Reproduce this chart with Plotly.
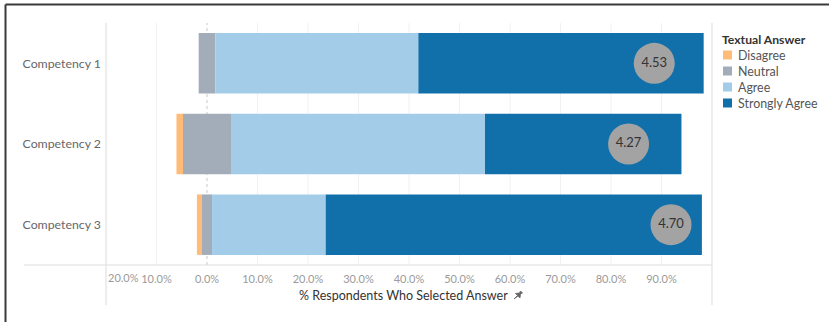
import plotly.graph_objects as go

# Survey results per competency (% of respondents)
competencies = ["Competency 1", "Competency 2", "Competency 3"]
answers = ["Disagree", "Neutral", "Agree", "Strongly Agree"]
disagree = [0.0, 1.3, 1.0]
neutral = [3.3, 9.5, 2.0]
agree = [40.2, 50.3, 22.5]
strongly_agree = [56.5, 38.9, 74.5]
mean_score = [4.53, 4.27, 4.70]

tick_values = [-20, -10, 0, 10, 20, 30, 40, 50, 60, 70, 80, 90]
tick_labels = ["20.0%", "10.0%", "0.0%", "10.0%", "20.0%", "30.0%", "40.0%",
               "50.0%", "60.0%", "70.0%", "80.0%", "90.0%"]

colors = {"Disagree": "#ffbc79", "Neutral": "#a3acb9",
          "Agree": "#a3cce9", "Strongly Agree": "#1170aa"}

FONT = "Lato"
W, H = 829, 322
L, R, T, B = 106, 117, 23, 57
PW, PH = W - L - R, H - T - B


def px_x(x):
    return (x - L) / PW


def px_y(y):
    return (H - B - y) / PH


# Diverging layout: neutral split around zero
bases = {"Disagree": [], "Neutral": [], "Agree": [], "Strongly Agree": []}
for d, n, a, s in zip(disagree, neutral, agree, strongly_agree):
    bases["Disagree"].append(-(n / 2 + d))
    bases["Neutral"].append(-n / 2)
    bases["Agree"].append(n / 2)
    bases["Strongly Agree"].append(n / 2 + a)

values = {"Disagree": disagree, "Neutral": neutral, "Agree": agree,
          "Strongly Agree": strongly_agree}

fig = go.Figure()
for ans in answers:
    fig.add_trace(go.Bar(
        y=competencies, x=values[ans], base=bases[ans], orientation="h",
        name=ans, width=0.75, marker=dict(color=colors[ans], line=dict(width=0)),
        showlegend=False, hoverinfo="skip",
    ))

# Average score bubbles, positioned on the scale from the mean score
score_scale = 19.55
fig.add_trace(go.Scatter(
    y=competencies, x=[m * score_scale for m in mean_score],
    mode="markers+text", text=[f"{m:.2f}" for m in mean_score],
    textposition="middle center",
    textfont=dict(family=FONT, size=13, color="#333333"),
    marker=dict(size=41, color="#a3a3a3", line=dict(width=0)),
    showlegend=False, hoverinfo="skip",
))

shapes = []
# faint vertical gridlines
for v in tick_values[1:]:
    if v == 0:
        continue
    shapes.append(dict(type="line", xref="x", yref="paper", x0=v, x1=v, y0=0, y1=1,
                       line=dict(color="#f1f1f1", width=1), layer="below"))
# dotted zero line
shapes.append(dict(type="line", xref="x", yref="paper", x0=0, x1=0, y0=0, y1=1,
                   line=dict(color="#c8c8c8", width=1, dash="dot"), layer="below"))
# axis frame lines
shapes.append(dict(type="line", xref="paper", yref="paper", x0=px_x(24), x1=1,
                   y0=0, y1=0, line=dict(color="#dedede", width=1.2)))
shapes.append(dict(type="line", xref="paper", yref="paper", x0=0, x1=0,
                   y0=px_y(305), y1=1, line=dict(color="#e2e2e2", width=1.2)))
shapes.append(dict(type="line", xref="paper", yref="paper", x0=1, x1=1,
                   y0=px_y(305), y1=1, line=dict(color="#e2e2e2", width=1.2)))
# outer border (top and left)
shapes.append(dict(type="line", xref="paper", yref="paper", x0=px_x(5.5), x1=px_x(W + 5),
                   y0=px_y(4.5), y1=px_y(4.5), line=dict(color="#3a3a3a", width=2)))
shapes.append(dict(type="line", xref="paper", yref="paper", x0=px_x(5.5), x1=px_x(5.5),
                   y0=px_y(4.5), y1=px_y(H + 5), line=dict(color="#3a3a3a", width=2)))

annotations = []
# left-most tick label is clamped inside the axis
annotations.append(dict(xref="x", yref="paper", x=tick_values[0], y=px_y(277),
                        text=tick_labels[0], showarrow=False, xanchor="left",
                        yanchor="middle", xshift=0,
                        font=dict(family=FONT, size=11, color="#9a9a9a")))
# axis title with pin icon
annotations.append(dict(xref="paper", yref="paper", x=px_x(510), y=px_y(295),
                        text="% Respondents Who Selected Answer", showarrow=False,
                        xanchor="right", yanchor="middle",
                        font=dict(family=FONT, size=12.5, color="#333333")))
# pin icon
cx, cy = 518, 295
pin = (f"M {px_x(cx-4)} {px_y(cy+4)} L {px_x(cx-0.5)} {px_y(cy+0.5)} "
       f"L {px_x(cx-2.5)} {px_y(cy-1.5)} L {px_x(cx+1.5)} {px_y(cy-2)} "
       f"L {px_x(cx+2.5)} {px_y(cy-4)} L {px_x(cx+4.5)} {px_y(cy-2)} "
       f"L {px_x(cx+2.5)} {px_y(cy-1)} L {px_x(cx+2)} {px_y(cy+3)} "
       f"L {px_x(cx)} {px_y(cy+1)} Z")
shapes.append(dict(type="path", xref="paper", yref="paper", path=pin,
                   fillcolor="#666666", line=dict(color="#666666", width=0.8)))

# legend
annotations.append(dict(xref="paper", yref="paper", x=px_x(720), y=px_y(39),
                        text="<b>Textual Answer</b>", showarrow=False,
                        xanchor="left", yanchor="middle",
                        font=dict(family=FONT, size=12.2, color="#333333")))
for i, ans in enumerate(answers):
    yc = 55 + 16 * i
    shapes.append(dict(type="rect", xref="paper", yref="paper",
                       x0=px_x(723), x1=px_x(732), y0=px_y(yc + 4.5), y1=px_y(yc - 4.5),
                       fillcolor=colors[ans], line=dict(width=0)))
    annotations.append(dict(xref="paper", yref="paper", x=px_x(736), y=px_y(yc),
                            text=ans, showarrow=False, xanchor="left", yanchor="middle",
                            font=dict(family=FONT, size=12.4, color="#555555")))

fig.update_layout(
    width=W, height=H, autosize=False,
    margin=dict(l=L, r=R, t=T, b=B, pad=0),
    paper_bgcolor="white", plot_bgcolor="white",
    barmode="overlay", showlegend=False,
    font=dict(family=FONT),
    shapes=shapes, annotations=annotations,
    xaxis=dict(range=[-20, 100], tickvals=tick_values[1:], ticktext=tick_labels[1:],
               showgrid=False, zeroline=False, showline=False, ticks="",
               ticklabelstandoff=6,
               tickfont=dict(family=FONT, size=11, color="#9a9a9a"), fixedrange=True),
    yaxis=dict(categoryorder="array", categoryarray=competencies, autorange="reversed",
               showgrid=False, zeroline=False, showline=False, ticks="",
               ticklabelstandoff=4,
               tickfont=dict(family=FONT, size=12.3, color="#666666"), fixedrange=True),
)

fig.write_html("out.html")
